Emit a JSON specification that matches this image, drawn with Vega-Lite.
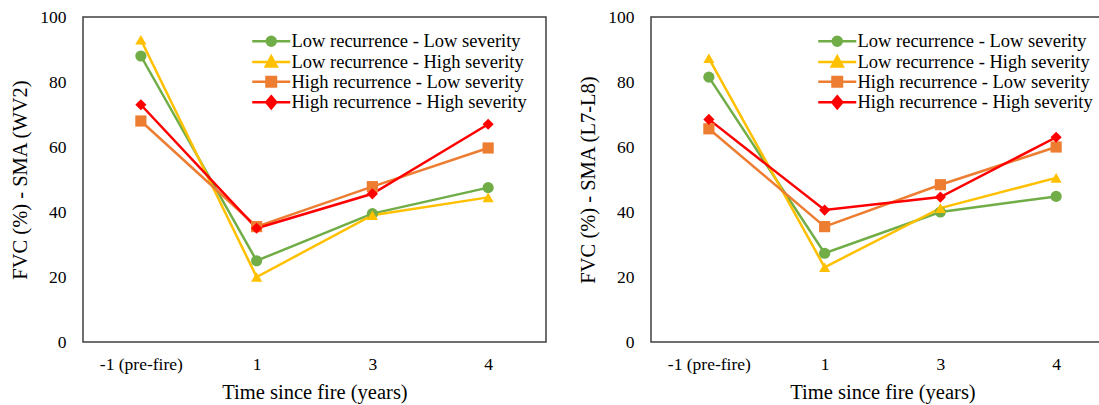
{
  "$schema": "https://vega.github.io/schema/vega-lite/v6.json",
  "padding": {"left": 10, "top": 7, "right": 0, "bottom": 0},
  "background": "white",
  "spacing": 105,
  "bounds": "flush",
  "config": {
    "font": "Times New Roman, Liberation Serif, serif",
    "view": {"stroke": "#404040", "strokeWidth": 1.5},
    "axis": {
      "domain": false, "ticks": false, "grid": false,
      "labelFont": "Times New Roman, Liberation Serif, serif", "labelFontSize": 17.5, "labelColor": "#000000",
      "titleFont": "Times New Roman, Liberation Serif, serif", "titleFontSize": 20.5, "titleColor": "#000000", "titleFontWeight": "normal"
    },
    "legend": {
      "labelFont": "Times New Roman, Liberation Serif, serif", "labelFontSize": 18.5, "labelColor": "#000000",
      "symbolSize": 100, "symbolStrokeWidth": 2.5, "labelOffset": 11, "padding": 0,
      "rowPadding": -0.3, "labelLimit": 400
    }
  },
  "data": {
    "values": [
      {"panel": "WV2", "time": "-1 (pre-fire)", "series": "Low recurrence - Low severity", "fvc": 88},
      {"panel": "WV2", "time": "1", "series": "Low recurrence - Low severity", "fvc": 25},
      {"panel": "WV2", "time": "3", "series": "Low recurrence - Low severity", "fvc": 39.5},
      {"panel": "WV2", "time": "4", "series": "Low recurrence - Low severity", "fvc": 47.5},
      {"panel": "WV2", "time": "-1 (pre-fire)", "series": "Low recurrence - High severity", "fvc": 93},
      {"panel": "WV2", "time": "1", "series": "Low recurrence - High severity", "fvc": 20},
      {"panel": "WV2", "time": "3", "series": "Low recurrence - High severity", "fvc": 39},
      {"panel": "WV2", "time": "4", "series": "Low recurrence - High severity", "fvc": 44.5},
      {"panel": "WV2", "time": "-1 (pre-fire)", "series": "High recurrence - Low severity", "fvc": 68},
      {"panel": "WV2", "time": "1", "series": "High recurrence - Low severity", "fvc": 35.5},
      {"panel": "WV2", "time": "3", "series": "High recurrence - Low severity", "fvc": 47.8},
      {"panel": "WV2", "time": "4", "series": "High recurrence - Low severity", "fvc": 59.7},
      {"panel": "WV2", "time": "-1 (pre-fire)", "series": "High recurrence - High severity", "fvc": 73},
      {"panel": "WV2", "time": "1", "series": "High recurrence - High severity", "fvc": 35},
      {"panel": "WV2", "time": "3", "series": "High recurrence - High severity", "fvc": 45.6},
      {"panel": "WV2", "time": "4", "series": "High recurrence - High severity", "fvc": 67},
      {"panel": "L7-L8", "time": "-1 (pre-fire)", "series": "Low recurrence - Low severity", "fvc": 81.5},
      {"panel": "L7-L8", "time": "1", "series": "Low recurrence - Low severity", "fvc": 27.3},
      {"panel": "L7-L8", "time": "3", "series": "Low recurrence - Low severity", "fvc": 40},
      {"panel": "L7-L8", "time": "4", "series": "Low recurrence - Low severity", "fvc": 44.8},
      {"panel": "L7-L8", "time": "-1 (pre-fire)", "series": "Low recurrence - High severity", "fvc": 87.3},
      {"panel": "L7-L8", "time": "1", "series": "Low recurrence - High severity", "fvc": 23},
      {"panel": "L7-L8", "time": "3", "series": "Low recurrence - High severity", "fvc": 41.2},
      {"panel": "L7-L8", "time": "4", "series": "Low recurrence - High severity", "fvc": 50.5},
      {"panel": "L7-L8", "time": "-1 (pre-fire)", "series": "High recurrence - Low severity", "fvc": 65.6},
      {"panel": "L7-L8", "time": "1", "series": "High recurrence - Low severity", "fvc": 35.5},
      {"panel": "L7-L8", "time": "3", "series": "High recurrence - Low severity", "fvc": 48.4},
      {"panel": "L7-L8", "time": "4", "series": "High recurrence - Low severity", "fvc": 60},
      {"panel": "L7-L8", "time": "-1 (pre-fire)", "series": "High recurrence - High severity", "fvc": 68.5},
      {"panel": "L7-L8", "time": "1", "series": "High recurrence - High severity", "fvc": 40.6},
      {"panel": "L7-L8", "time": "3", "series": "High recurrence - High severity", "fvc": 44.6},
      {"panel": "L7-L8", "time": "4", "series": "High recurrence - High severity", "fvc": 63}
    ]
  },
  "hconcat": [
    {
      "width": 463, "height": 325,
      "transform": [{"filter": "datum.panel == 'WV2'"}],
      "encoding": {
        "x": {"field": "time", "type": "ordinal", "scale": {"type": "point", "domain": ["-1 (pre-fire)", "1", "3", "4"], "padding": 0.5},
              "axis": {"labelAngle": 0, "labelPadding": 13, "title": "Time since fire (years)", "titlePadding": 10}},
        "y": {"field": "fvc", "type": "quantitative", "scale": {"domain": [0, 100]},
              "axis": {"values": [0, 20, 40, 60, 80, 100], "labelPadding": 17, "title": "FVC (%) - SMA (WV2)", "titlePadding": 9}}
      },
      "layer": [
        {
          "mark": {"type": "line", "strokeWidth": 2.5},
          "encoding": {
            "color": {"field": "series", "type": "nominal", "legend": null,
                      "scale": {"domain": ["Low recurrence - Low severity", "Low recurrence - High severity", "High recurrence - Low severity", "High recurrence - High severity"],
                                "range": ["#70AD47", "#FFC000", "#ED7D31", "#FF0000"]}}
          }
        },
        {
          "mark": {"type": "point", "filled": true, "opacity": 1, "size": 125},
          "encoding": {
            "color": {"field": "series", "type": "nominal", "legend": null},
            "shape": {"field": "series", "type": "nominal", "legend": null,
                      "scale": {"domain": ["Low recurrence - Low severity", "Low recurrence - High severity", "High recurrence - Low severity", "High recurrence - High severity"],
                                "range": ["circle", "triangle-up", "square", "diamond"]}}
          }
        },
        {
          "transform": [{"filter": "false"}],
          "mark": {"type": "point", "filled": true, "opacity": 1},
          "encoding": {
            "fill": {"field": "series", "type": "nominal",
                     "scale": {"domain": ["Low recurrence - Low severity", "Low recurrence - High severity", "High recurrence - Low severity", "High recurrence - High severity"],
                               "range": ["#70AD47", "#FFC000", "#ED7D31", "#FF0000"]},
                     "legend": {"orient": "none", "legendX": 179, "legendY": 15, "title": null}},
            "stroke": {"field": "series", "type": "nominal",
                       "scale": {"domain": ["Low recurrence - Low severity", "Low recurrence - High severity", "High recurrence - Low severity", "High recurrence - High severity"],
                                 "range": ["#70AD47", "#FFC000", "#ED7D31", "#FF0000"]},
                       "legend": {"orient": "none", "legendX": 179, "legendY": 15, "title": null}},
            "shape": {"field": "series", "type": "nominal",
                      "scale": {"domain": ["Low recurrence - Low severity", "Low recurrence - High severity", "High recurrence - Low severity", "High recurrence - High severity"],
                                "range": ["M-3.8,0H3.8M0.9,0A0.9,0.9,0,1,1,-0.9,0A0.9,0.9,0,1,1,0.9,0Z", "M-3.8,0H3.8M0,-1.1L1.1,0.9L-1.1,0.9Z", "M-3.8,0H3.8M-0.95,-0.95H0.95V0.95H-0.95Z", "M-3.8,0H3.8M0,-1.2L1,0L0,1.2L-1,0Z"]},
                      "legend": {"orient": "none", "legendX": 179, "legendY": 15, "title": null}}
          }
        }
      ],
      "resolve": {"scale": {"shape": "independent", "fill": "independent", "stroke": "independent"}}
    },
    {
      "width": 463, "height": 325,
      "transform": [{"filter": "datum.panel == 'L7-L8'"}],
      "encoding": {
        "x": {"field": "time", "type": "ordinal", "scale": {"type": "point", "domain": ["-1 (pre-fire)", "1", "3", "4"], "padding": 0.5},
              "axis": {"labelAngle": 0, "labelPadding": 13, "title": "Time since fire (years)", "titlePadding": 10}},
        "y": {"field": "fvc", "type": "quantitative", "scale": {"domain": [0, 100]},
              "axis": {"values": [0, 20, 40, 60, 80, 100], "labelPadding": 17, "title": "FVC (%) - SMA (L7-L8)", "titlePadding": 9}}
      },
      "layer": [
        {
          "mark": {"type": "line", "strokeWidth": 2.5},
          "encoding": {
            "color": {"field": "series", "type": "nominal", "legend": null,
                      "scale": {"domain": ["Low recurrence - Low severity", "Low recurrence - High severity", "High recurrence - Low severity", "High recurrence - High severity"],
                                "range": ["#70AD47", "#FFC000", "#ED7D31", "#FF0000"]}}
          }
        },
        {
          "mark": {"type": "point", "filled": true, "opacity": 1, "size": 125},
          "encoding": {
            "color": {"field": "series", "type": "nominal", "legend": null},
            "shape": {"field": "series", "type": "nominal", "legend": null,
                      "scale": {"domain": ["Low recurrence - Low severity", "Low recurrence - High severity", "High recurrence - Low severity", "High recurrence - High severity"],
                                "range": ["circle", "triangle-up", "square", "diamond"]}}
          }
        },
        {
          "transform": [{"filter": "false"}],
          "mark": {"type": "point", "filled": true, "opacity": 1},
          "encoding": {
            "fill": {"field": "series", "type": "nominal",
                     "scale": {"domain": ["Low recurrence - Low severity", "Low recurrence - High severity", "High recurrence - Low severity", "High recurrence - High severity"],
                               "range": ["#70AD47", "#FFC000", "#ED7D31", "#FF0000"]},
                     "legend": {"orient": "none", "legendX": 177, "legendY": 15, "title": null}},
            "stroke": {"field": "series", "type": "nominal",
                       "scale": {"domain": ["Low recurrence - Low severity", "Low recurrence - High severity", "High recurrence - Low severity", "High recurrence - High severity"],
                                 "range": ["#70AD47", "#FFC000", "#ED7D31", "#FF0000"]},
                       "legend": {"orient": "none", "legendX": 177, "legendY": 15, "title": null}},
            "shape": {"field": "series", "type": "nominal",
                      "scale": {"domain": ["Low recurrence - Low severity", "Low recurrence - High severity", "High recurrence - Low severity", "High recurrence - High severity"],
                                "range": ["M-3.8,0H3.8M0.9,0A0.9,0.9,0,1,1,-0.9,0A0.9,0.9,0,1,1,0.9,0Z", "M-3.8,0H3.8M0,-1.1L1.1,0.9L-1.1,0.9Z", "M-3.8,0H3.8M-0.95,-0.95H0.95V0.95H-0.95Z", "M-3.8,0H3.8M0,-1.2L1,0L0,1.2L-1,0Z"]},
                      "legend": {"orient": "none", "legendX": 177, "legendY": 15, "title": null}}
          }
        }
      ],
      "resolve": {"scale": {"shape": "independent", "fill": "independent", "stroke": "independent"}}
    }
  ],
  "resolve": {"scale": {"color": "independent", "shape": "independent", "fill": "independent", "stroke": "independent"}}
}
